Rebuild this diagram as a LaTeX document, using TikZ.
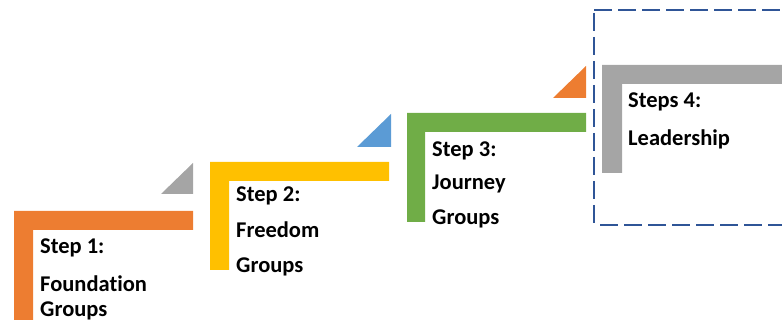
\documentclass[tikz,border=0pt]{standalone}
\usepackage{fontspec}
\setmainfont{Carlito}[Ligatures=NoCommon]
\definecolor{cOrange}{HTML}{ED7D31}
\definecolor{cYellow}{HTML}{FFC000}
\definecolor{cGreen}{HTML}{70AD47}
\definecolor{cGray}{HTML}{A5A5A5}
\definecolor{cBlue}{HTML}{5B9BD5}
\definecolor{cDash}{HTML}{2F5597}
\tikzset{
  lbl/.style={anchor=base west, inner sep=0pt, font=\fontsize{22.5}{26}\selectfont\bfseries, text=black},
  boxline/.style={draw=cDash, line width=2pt, dash pattern=on 18pt off 6pt},
}
\begin{document}
\begin{tikzpicture}[x=1pt,y=-1pt]
\useasboundingbox (0,0) rectangle (782,320);
% dashed frame
\draw[boxline] (594,10) -- (800,10);
\draw[boxline] (594,13) -- (594,226);
\draw[boxline] (600,225) -- (800,225);
% L shapes
\fill[cOrange] (14,330) -- (14,211) -- (193,211) -- (193,230) -- (33,230) -- (33,330) -- cycle;
\fill[cYellow] (210,270) -- (210,162) -- (389,162) -- (389,181) -- (229,181) -- (229,270) -- cycle;
\fill[cGreen] (407,222) -- (407,113) -- (586,113) -- (586,132) -- (425,132) -- (425,222) -- cycle;
\fill[cGray] (602,173) -- (602,65) -- (790,65) -- (790,84) -- (622,84) -- (622,173) -- cycle;
% triangles
\fill[cGray] (161,194) -- (193,194) -- (193,163) -- cycle;
\fill[cBlue] (357,147) -- (391,147) -- (391,114) -- cycle;
\fill[cOrange] (553,98) -- (586,98) -- (586,66) -- cycle;
% labels
\node[lbl] (s1a) at (40,254) {Step 1:};
\node[lbl] (s1b) at (40,292) {Foundation};
\node[lbl] (s1c) at (40,316.5) {Groups};
\node[lbl] (s2a) at (236,202) {Step 2:};
\node[lbl] (s2b) at (236,238) {Freedom};
\node[lbl] (s2c) at (236,273) {Groups};
\node[lbl] (s3a) at (432,157) {Step 3:};
\node[lbl] (s3b) at (432,190) {Journey};
\node[lbl] (s3c) at (432,225) {Groups};
\node[lbl] (s4a) at (628,108) {Steps 4:};
\node[lbl] (s4b) at (628,146) {Leadership};
\end{tikzpicture}
\end{document}
